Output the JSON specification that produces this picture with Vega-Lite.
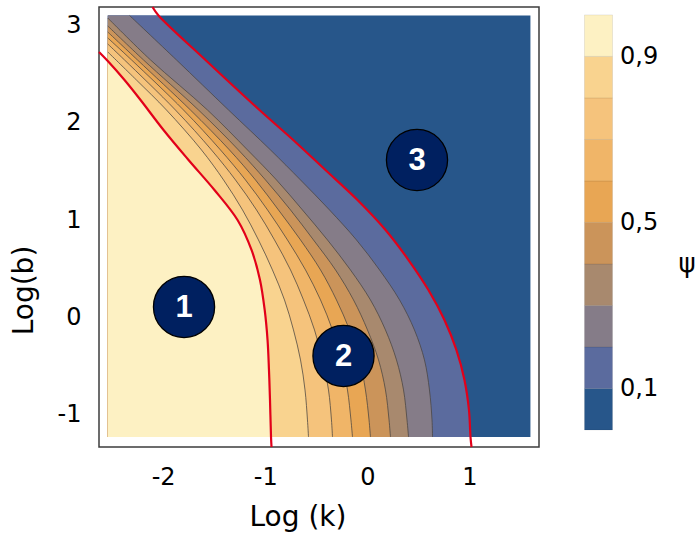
{
  "$schema": "https://vega.github.io/schema/vega-lite/v6.json",
  "padding": {"left": 9, "top": 1, "right": 0, "bottom": 0},
  "autosize": {"type": "pad"},
  "background": "white",
  "config": {"font": "DejaVu Sans", "view": {"stroke": "#3c3c3c", "strokeWidth": 1.5}},
  "spacing": 43.5,
  "resolve": {"scale": {"color": "independent"}},
  "datasets": {
    "cont": [
      {"l":"0.0","b":-1.226,"k":1.598,"e":0},
      {"l":"0.0","b":3.102,"k":1.598,"e":0},
      {"l":"0.1","b":3.189,"k":-2.104,"e":1},
      {"l":"0.1","b":3.102,"k":-2.045,"e":0},
      {"l":"0.1","b":2.645,"k":-1.585,"e":0},
      {"l":"0.1","b":2.131,"k":-1.056,"e":0},
      {"l":"0.1","b":1.793,"k":-0.694,"e":0},
      {"l":"0.1","b":1.515,"k":-0.410,"e":0},
      {"l":"0.1","b":1.207,"k":-0.096,"e":0},
      {"l":"0.1","b":0.899,"k":0.179,"e":0},
      {"l":"0.1","b":0.591,"k":0.404,"e":0},
      {"l":"0.1","b":0.283,"k":0.599,"e":0},
      {"l":"0.1","b":-0.025,"k":0.756,"e":0},
      {"l":"0.1","b":-0.333,"k":0.873,"e":0},
      {"l":"0.1","b":-0.641,"k":0.952,"e":0},
      {"l":"0.1","b":-0.949,"k":0.996,"e":0},
      {"l":"0.1","b":-1.226,"k":1.011,"e":0},
      {"l":"0.1","b":-1.329,"k":1.021,"e":1},
      {"l":"0.2","b":3.102,"k":-2.329,"e":0},
      {"l":"0.2","b":2.645,"k":-1.869,"e":0},
      {"l":"0.2","b":2.131,"k":-1.359,"e":0},
      {"l":"0.2","b":1.721,"k":-0.948,"e":0},
      {"l":"0.2","b":1.413,"k":-0.654,"e":0},
      {"l":"0.2","b":1.105,"k":-0.370,"e":0},
      {"l":"0.2","b":0.797,"k":-0.106,"e":0},
      {"l":"0.2","b":0.489,"k":0.120,"e":0},
      {"l":"0.2","b":0.181,"k":0.316,"e":0},
      {"l":"0.2","b":-0.127,"k":0.462,"e":0},
      {"l":"0.2","b":-0.435,"k":0.560,"e":0},
      {"l":"0.2","b":-0.743,"k":0.609,"e":0},
      {"l":"0.2","b":-1.051,"k":0.634,"e":0},
      {"l":"0.2","b":-1.226,"k":0.639,"e":0},
      {"l":"0.3","b":3.076,"k":-2.542,"e":0},
      {"l":"0.3","b":2.645,"k":-2.123,"e":0},
      {"l":"0.3","b":2.131,"k":-1.565,"e":0},
      {"l":"0.3","b":1.721,"k":-1.173,"e":0},
      {"l":"0.3","b":1.413,"k":-0.889,"e":0},
      {"l":"0.3","b":1.105,"k":-0.635,"e":0},
      {"l":"0.3","b":0.797,"k":-0.390,"e":0},
      {"l":"0.3","b":0.489,"k":-0.165,"e":0},
      {"l":"0.3","b":0.181,"k":0.031,"e":0},
      {"l":"0.3","b":-0.127,"k":0.178,"e":0},
      {"l":"0.3","b":-0.435,"k":0.286,"e":0},
      {"l":"0.3","b":-0.743,"k":0.355,"e":0},
      {"l":"0.3","b":-1.051,"k":0.389,"e":0},
      {"l":"0.3","b":-1.226,"k":0.404,"e":0},
      {"l":"0.4","b":2.994,"k":-2.542,"e":0},
      {"l":"0.4","b":2.645,"k":-2.192,"e":0},
      {"l":"0.4","b":2.131,"k":-1.653,"e":0},
      {"l":"0.4","b":1.721,"k":-1.262,"e":0},
      {"l":"0.4","b":1.413,"k":-0.997,"e":0},
      {"l":"0.4","b":1.105,"k":-0.752,"e":0},
      {"l":"0.4","b":0.797,"k":-0.527,"e":0},
      {"l":"0.4","b":0.489,"k":-0.311,"e":0},
      {"l":"0.4","b":0.181,"k":-0.135,"e":0},
      {"l":"0.4","b":-0.127,"k":0.002,"e":0},
      {"l":"0.4","b":-0.435,"k":0.110,"e":0},
      {"l":"0.4","b":-0.743,"k":0.178,"e":0},
      {"l":"0.4","b":-1.051,"k":0.213,"e":0},
      {"l":"0.4","b":-1.226,"k":0.227,"e":0},
      {"l":"0.5","b":2.932,"k":-2.542,"e":0},
      {"l":"0.5","b":2.645,"k":-2.251,"e":0},
      {"l":"0.5","b":2.131,"k":-1.732,"e":0},
      {"l":"0.5","b":1.721,"k":-1.350,"e":0},
      {"l":"0.5","b":1.413,"k":-1.095,"e":0},
      {"l":"0.5","b":1.105,"k":-0.870,"e":0},
      {"l":"0.5","b":0.797,"k":-0.654,"e":0},
      {"l":"0.5","b":0.489,"k":-0.458,"e":0},
      {"l":"0.5","b":0.181,"k":-0.302,"e":0},
      {"l":"0.5","b":-0.127,"k":-0.174,"e":0},
      {"l":"0.5","b":-0.435,"k":-0.076,"e":0},
      {"l":"0.5","b":-0.743,"k":-0.018,"e":0},
      {"l":"0.5","b":-1.051,"k":0.017,"e":0},
      {"l":"0.5","b":-1.226,"k":0.031,"e":0},
      {"l":"0.6","b":2.871,"k":-2.542,"e":0},
      {"l":"0.6","b":2.645,"k":-2.309,"e":0},
      {"l":"0.6","b":2.131,"k":-1.800,"e":0},
      {"l":"0.6","b":1.721,"k":-1.438,"e":0},
      {"l":"0.6","b":1.413,"k":-1.193,"e":0},
      {"l":"0.6","b":1.105,"k":-0.977,"e":0},
      {"l":"0.6","b":0.797,"k":-0.782,"e":0},
      {"l":"0.6","b":0.489,"k":-0.605,"e":0},
      {"l":"0.6","b":0.181,"k":-0.458,"e":0},
      {"l":"0.6","b":-0.127,"k":-0.341,"e":0},
      {"l":"0.6","b":-0.435,"k":-0.253,"e":0},
      {"l":"0.6","b":-0.743,"k":-0.194,"e":0},
      {"l":"0.6","b":-1.051,"k":-0.160,"e":0},
      {"l":"0.6","b":-1.226,"k":-0.145,"e":0},
      {"l":"0.7","b":2.809,"k":-2.542,"e":0},
      {"l":"0.7","b":2.645,"k":-2.378,"e":0},
      {"l":"0.7","b":2.131,"k":-1.879,"e":0},
      {"l":"0.7","b":1.721,"k":-1.526,"e":0},
      {"l":"0.7","b":1.413,"k":-1.291,"e":0},
      {"l":"0.7","b":1.105,"k":-1.085,"e":0},
      {"l":"0.7","b":0.797,"k":-0.909,"e":0},
      {"l":"0.7","b":0.489,"k":-0.752,"e":0},
      {"l":"0.7","b":0.181,"k":-0.625,"e":0},
      {"l":"0.7","b":-0.127,"k":-0.517,"e":0},
      {"l":"0.7","b":-0.435,"k":-0.439,"e":0},
      {"l":"0.7","b":-0.743,"k":-0.380,"e":0},
      {"l":"0.7","b":-1.051,"k":-0.351,"e":0},
      {"l":"0.7","b":-1.226,"k":-0.341,"e":0},
      {"l":"0.8","b":2.727,"k":-2.542,"e":0},
      {"l":"0.8","b":2.439,"k":-2.261,"e":0},
      {"l":"0.8","b":2.131,"k":-1.967,"e":0},
      {"l":"0.8","b":1.721,"k":-1.624,"e":0},
      {"l":"0.8","b":1.413,"k":-1.408,"e":0},
      {"l":"0.8","b":1.105,"k":-1.222,"e":0},
      {"l":"0.8","b":0.797,"k":-1.066,"e":0},
      {"l":"0.8","b":0.489,"k":-0.929,"e":0},
      {"l":"0.8","b":0.181,"k":-0.811,"e":0},
      {"l":"0.8","b":-0.127,"k":-0.723,"e":0},
      {"l":"0.8","b":-0.435,"k":-0.654,"e":0},
      {"l":"0.8","b":-0.743,"k":-0.610,"e":0},
      {"l":"0.8","b":-1.051,"k":-0.586,"e":0},
      {"l":"0.8","b":-1.226,"k":-0.576,"e":0},
      {"l":"0.9","b":2.727,"k":-2.628,"e":1},
      {"l":"0.9","b":2.634,"k":-2.542,"e":0},
      {"l":"0.9","b":2.439,"k":-2.378,"e":0},
      {"l":"0.9","b":2.234,"k":-2.221,"e":0},
      {"l":"0.9","b":1.926,"k":-1.996,"e":0},
      {"l":"0.9","b":1.618,"k":-1.751,"e":0},
      {"l":"0.9","b":1.310,"k":-1.497,"e":0},
      {"l":"0.9","b":1.002,"k":-1.271,"e":0},
      {"l":"0.9","b":0.694,"k":-1.134,"e":0},
      {"l":"0.9","b":0.386,"k":-1.051,"e":0},
      {"l":"0.9","b":0.078,"k":-1.005,"e":0},
      {"l":"0.9","b":-0.230,"k":-0.977,"e":0},
      {"l":"0.9","b":-0.538,"k":-0.963,"e":0},
      {"l":"0.9","b":-0.846,"k":-0.953,"e":0},
      {"l":"0.9","b":-1.226,"k":-0.943,"e":0},
      {"l":"0.9","b":-1.329,"k":-0.938,"e":1}
    ],
    "circ": [
      {"k":-1.795,"b":0.109,"n":"1"},
      {"k":-0.233,"b":-0.394,"n":"2"},
      {"k":0.487,"b":1.618,"n":"3"}
    ],
    "bar": [
      {"l":"0.0","lo":0.0,"hi":0.1},
      {"l":"0.1","lo":0.1,"hi":0.2},
      {"l":"0.2","lo":0.2,"hi":0.3},
      {"l":"0.3","lo":0.3,"hi":0.4},
      {"l":"0.4","lo":0.4,"hi":0.5},
      {"l":"0.5","lo":0.5,"hi":0.6},
      {"l":"0.6","lo":0.6,"hi":0.7},
      {"l":"0.7","lo":0.7,"hi":0.8},
      {"l":"0.8","lo":0.8,"hi":0.9},
      {"l":"0.9","lo":0.9,"hi":1.0}
    ]
  },
  "hconcat": [
    {
      "width": 440,
      "height": 440,
      "layer": [
        {
          "data": {"name": "cont"},
          "transform": [{"filter": "datum.e == 0"}],
          "mark": {"type": "area", "orient": "horizontal", "interpolate": "catmull-rom"},
          "encoding": {
            "y": {"field": "b", "type": "quantitative",
              "scale": {"domain": [-1.329, 3.189], "nice": false, "zero": false},
              "axis": {"values": [-1, 0, 1, 2, 3], "labelExpr": "datum.value < 0 ? '-' + abs(datum.value) : '' + datum.value",
                "ticks": false, "tickSize": 0, "domain": false, "grid": false, "labelPadding": 18, "labelFontSize": 24, "labelColor": "#000",
                "title": "Log(b)", "titleFontSize": 28, "titleFontWeight": "normal", "titleColor": "#000",
                "titleAngle": 270, "titleX": -66.5, "titleY": 283, "titleBaseline": "alphabetic", "titleAlign": "center"}},
            "x": {"field": "k", "type": "quantitative", "stack": null,
              "scale": {"domain": [-2.628, 1.682], "nice": false, "zero": false},
              "axis": {"values": [-2, -1, 0, 1], "labelExpr": "datum.value < 0 ? '-' + abs(datum.value) : '' + datum.value",
                "ticks": false, "tickSize": 0, "domain": false, "grid": false, "labelPadding": 18, "labelFontSize": 24, "labelColor": "#000",
                "title": "Log (k)", "titleFontSize": 28, "titleFontWeight": "normal", "titleColor": "#000",
                "titleX": 198.5, "titleY": 78, "titleBaseline": "alphabetic", "titleAlign": "center"}},
            "x2": {"datum": -2.542},
            "color": {"field": "l", "type": "nominal", "legend": null,
              "scale": {"domain": ["0.0","0.1","0.2","0.3","0.4","0.5","0.6","0.7","0.8","0.9"],
                "range": ["#27568A","#5B6B9E","#857C88","#A8896E","#CB945A","#E8A654","#F0B568","#F5C37C","#F9D38F","#FDF1C3"]}}
          }
        },
        {
          "data": {"name": "cont"},
          "transform": [{"filter": "datum.l != '0.0' && datum.l != '0.1' && datum.l != '0.9'"}],
          "mark": {"type": "line", "interpolate": "catmull-rom", "color": "#4a4440", "strokeWidth": 0.9, "opacity": 0.85},
          "encoding": {
            "x": {"field": "k", "type": "quantitative"},
            "y": {"field": "b", "type": "quantitative"},
            "detail": {"field": "l"},
            "order": {"field": "b"}
          }
        },
        {
          "data": {"name": "cont"},
          "transform": [{"filter": "datum.l == '0.1' || datum.l == '0.9'"}],
          "mark": {"type": "line", "interpolate": "catmull-rom", "color": "#E2001A", "strokeWidth": 2.2},
          "encoding": {
            "x": {"field": "k", "type": "quantitative"},
            "y": {"field": "b", "type": "quantitative"},
            "detail": {"field": "l"},
            "order": {"field": "b"}
          }
        },
        {
          "data": {"name": "circ"},
          "mark": {"type": "point", "shape": "circle", "filled": true, "size": 3740, "color": "#002060", "stroke": "#000000", "strokeWidth": 1.3, "opacity": 1},
          "encoding": {
            "x": {"field": "k", "type": "quantitative"},
            "y": {"field": "b", "type": "quantitative"}
          }
        },
        {
          "data": {"name": "circ"},
          "mark": {"type": "text", "color": "#ffffff", "font": "Liberation Sans", "fontSize": 31, "fontWeight": "bold", "baseline": "middle", "align": "center", "dy": 1},
          "encoding": {
            "x": {"field": "k", "type": "quantitative"},
            "y": {"field": "b", "type": "quantitative"},
            "text": {"field": "n"}
          }
        }
      ]
    },
    {
      "width": 28,
      "height": 440,
      "view": {"stroke": null},
      "data": {"name": "bar"},
      "mark": {"type": "rect", "stroke": "#000000", "strokeOpacity": 0.08, "strokeWidth": 1},
      "encoding": {
        "x": {"datum": 0, "type": "quantitative", "scale": {"domain": [0, 1], "nice": false, "zero": false}, "axis": null},
        "x2": {"datum": 1},
        "y": {"field": "lo", "type": "quantitative",
          "scale": {"domain": [-0.041, 1.019], "nice": false, "zero": false},
          "axis": {"orient": "right", "values": [0.1, 0.5, 0.9], "labelExpr": "replace(format(datum.value, '.1f'), '.', ',')",
            "ticks": false, "tickSize": 0, "domain": false, "grid": false, "labelPadding": 7, "labelFontSize": 24, "labelColor": "#000",
            "title": "ψ", "titleAngle": 0, "titleX": 74, "titleY": 256, "titleAlign": "center", "titleBaseline": "middle",
            "titleFontSize": 26, "titleFontWeight": "normal", "titleColor": "#000"}},
        "y2": {"field": "hi"},
        "color": {"field": "l", "type": "nominal", "legend": null,
          "scale": {"domain": ["0.0","0.1","0.2","0.3","0.4","0.5","0.6","0.7","0.8","0.9"],
            "range": ["#27568A","#5B6B9E","#857C88","#A8896E","#CB945A","#E8A654","#F0B568","#F5C37C","#F9D38F","#FDF1C3"]}}
      }
    }
  ]
}
